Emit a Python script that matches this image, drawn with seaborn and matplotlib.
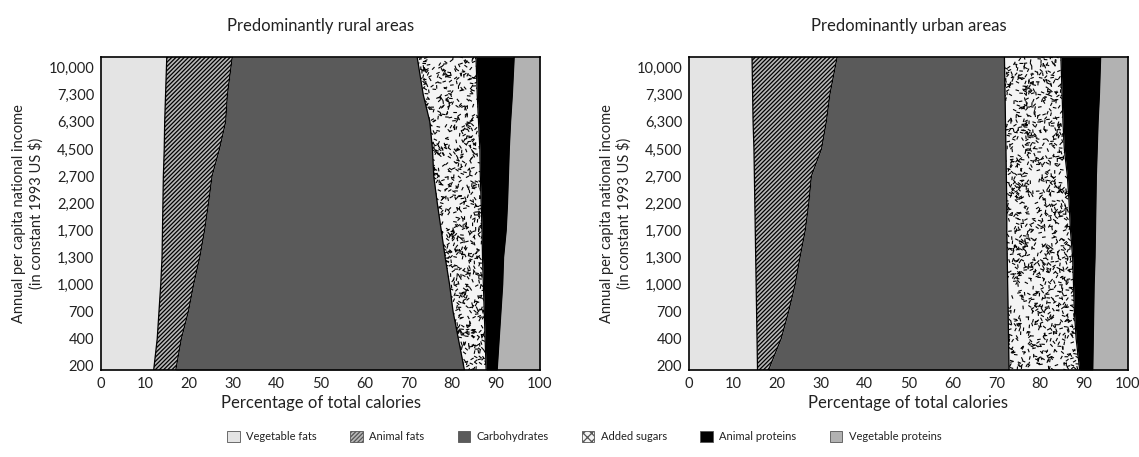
import numpy as np
import matplotlib
matplotlib.use("Agg")
import matplotlib.pyplot as plt
from matplotlib.collections import LineCollection
from matplotlib.patches import Patch
import seaborn as sns

# Income levels (bottom to top) and shares of total calories (%)
income_labels = ["200", "400", "700", "1,000", "1,300", "1,700",
                 "2,200", "2,700", "4,500", "6,300", "7,300", "10,000"]
nutrients = ["Vegetable fats", "Animal fats", "Carbohydrates",
             "Added sugars", "Animal proteins", "Vegetable proteins"]

rural_veg_fats = [12.1, 12.8, 13.2, 13.6, 13.9, 14.0, 14.1, 14.2, 14.4, 14.5, 14.7, 14.9]
rural_animal_fats = [5.1, 5.5, 6.7, 7.5, 8.6, 9.6, 10.4, 11.1, 12.6, 13.9, 14.1, 14.7]
rural_carbs = [65.4, 63.1, 60.3, 58.3, 55.9, 53.9, 52.1, 50.5, 48.5, 46.5, 44.6, 42.8]
rural_sugars = [5.1, 6.1, 7.1, 7.7, 8.5, 9.3, 10.0, 10.6, 10.8, 11.1, 12.3, 13.1]
rural_animal_prot = [2.6, 3.2, 3.8, 4.4, 4.8, 5.5, 6.0, 6.4, 6.7, 7.3, 8.0, 8.5]
rural_veg_prot = [9.7, 9.3, 8.9, 8.5, 8.3, 7.7, 7.4, 7.2, 7.0, 6.7, 6.3, 6.0]

urban_veg_fats = [15.6, 15.5, 15.4, 15.3, 15.2, 15.1, 15.0, 14.9, 14.8, 14.6, 14.5, 14.4]
urban_animal_fats = [2.9, 5.5, 7.3, 8.9, 10.1, 11.4, 12.3, 13.0, 15.4, 16.7, 17.6, 18.9]
urban_carbs = [54.4, 51.8, 50.0, 48.4, 47.2, 45.9, 45.1, 44.4, 42.0, 40.8, 39.9, 38.6]
urban_sugars = [16.0, 15.4, 15.1, 15.0, 14.9, 14.5, 14.2, 13.9, 13.3, 13.1, 13.0, 12.9]
urban_animal_prot = [3.1, 3.9, 4.4, 4.7, 5.1, 5.7, 6.1, 6.6, 7.5, 8.0, 8.5, 8.9]
urban_veg_prot = [8.0, 7.9, 7.8, 7.7, 7.5, 7.4, 7.3, 7.2, 7.0, 6.8, 6.5, 6.3]

rural = [rural_veg_fats, rural_animal_fats, rural_carbs,
         rural_sugars, rural_animal_prot, rural_veg_prot]
urban = [urban_veg_fats, urban_animal_fats, urban_carbs,
         urban_sugars, urban_animal_prot, urban_veg_prot]

sns.set_theme(style="white")
plt.rcParams["font.family"] = ["Lato", "DejaVu Sans"]
plt.rcParams["hatch.linewidth"] = 0.9

FACE = ["#e4e4e4", "#b8b8b8", "#5a5a5a", "#f4f4f4", "black", "#b2b2b2"]
HATCH = [None, "////////", None, None, None, None]
Y_LO, Y_HI = -0.15, 11.39


def extend(vals, y):
    """Carry a boundary on to the bottom and top edges of the axes."""
    lo = vals[0] + (vals[0] - vals[1]) * (y[0] - Y_LO)
    hi = vals[-1] + (vals[-1] - vals[-2]) * (Y_HI - y[-1])
    return np.r_[lo, vals, hi]


def speckle(ax, poly, seed):
    """Short randomly oriented dashes, clipped to the sugar band."""
    rng = np.random.default_rng(seed)
    n = 8000
    xs = rng.uniform(0, 100, n)
    ys = rng.uniform(Y_LO, Y_HI, n)
    th = rng.uniform(0, np.pi, n)
    half_px = 1.8  # half dash length in pixels
    dx = half_px / 4.39 * np.cos(th)
    dy = half_px / 27.1 * np.sin(th)
    segs = np.stack([np.c_[xs - dx, ys - dy], np.c_[xs + dx, ys + dy]], axis=1)
    lc = LineCollection(segs, colors="black", linewidths=0.8, zorder=2.5)
    ax.add_collection(lc)
    lc.set_clip_path(poly.get_paths()[0], transform=ax.transData)


def panel(ax, shares, title, seed):
    y = np.arange(len(income_labels), dtype=float)
    ye = np.r_[Y_LO, y, Y_HI]
    cum = np.cumsum(np.array(shares), axis=0)
    left = np.zeros(len(ye))
    for i in range(len(shares)):
        right = extend(cum[i], y) if i < len(shares) - 1 else np.full(len(ye), 100.0)
        poly = ax.fill_betweenx(ye, left, right, facecolor=FACE[i],
                                hatch=HATCH[i], edgecolor="black",
                                linewidth=0, zorder=2)
        if i == 3:
            speckle(ax, poly, seed)
        if i < len(shares) - 1:
            sns.lineplot(x=right, y=ye, orient="y", sort=False, estimator=None,
                         color="black", linewidth=0.9, ax=ax, zorder=3)
        left = right
    ax.set_xlim(0, 100)
    ax.set_ylim(Y_LO, Y_HI)
    ax.set_xticks(np.arange(0, 101, 10))
    ax.set_yticks(y)
    ax.set_yticklabels(income_labels)
    ax.tick_params(axis="both", length=0, labelsize=10.5, colors="#222222", pad=5)
    ax.set_xlabel("Percentage of total calories", fontsize=12, labelpad=3, color="#222222")
    ax.set_ylabel("Annual per capita national income\n(in constant 1993 US $)",
                  fontsize=10.5, labelpad=3, color="#222222")
    ax.set_title(title, fontsize=12, pad=19, color="#222222")
    for s in ax.spines.values():
        s.set_visible(True)
        s.set_color("black")
        s.set_linewidth(1.2)
        s.set_zorder(4)


fig = plt.figure(figsize=(11.39, 4.57), dpi=100)
ax1 = fig.add_axes([0.0887, 0.1904, 0.3854, 0.685])
ax2 = fig.add_axes([0.6049, 0.1904, 0.3854, 0.685])
panel(ax1, rural, "Predominantly rural areas", 3)
panel(ax2, urban, "Predominantly urban areas", 7)

handles = [Patch(facecolor=FACE[i], edgecolor="#555555", linewidth=0.6,
                 hatch=("xxxx" if i == 3 else HATCH[i]), label=nutrients[i])
           for i in range(len(nutrients))]
fig.legend(handles=handles, loc="center", bbox_to_anchor=(0.513, 0.045), ncol=6,
           frameon=False, fontsize=8, handlelength=1.1, handleheight=1.1,
           handletextpad=0.6, columnspacing=3.0, labelcolor="#222222")

fig.savefig("out.png", dpi=100)
